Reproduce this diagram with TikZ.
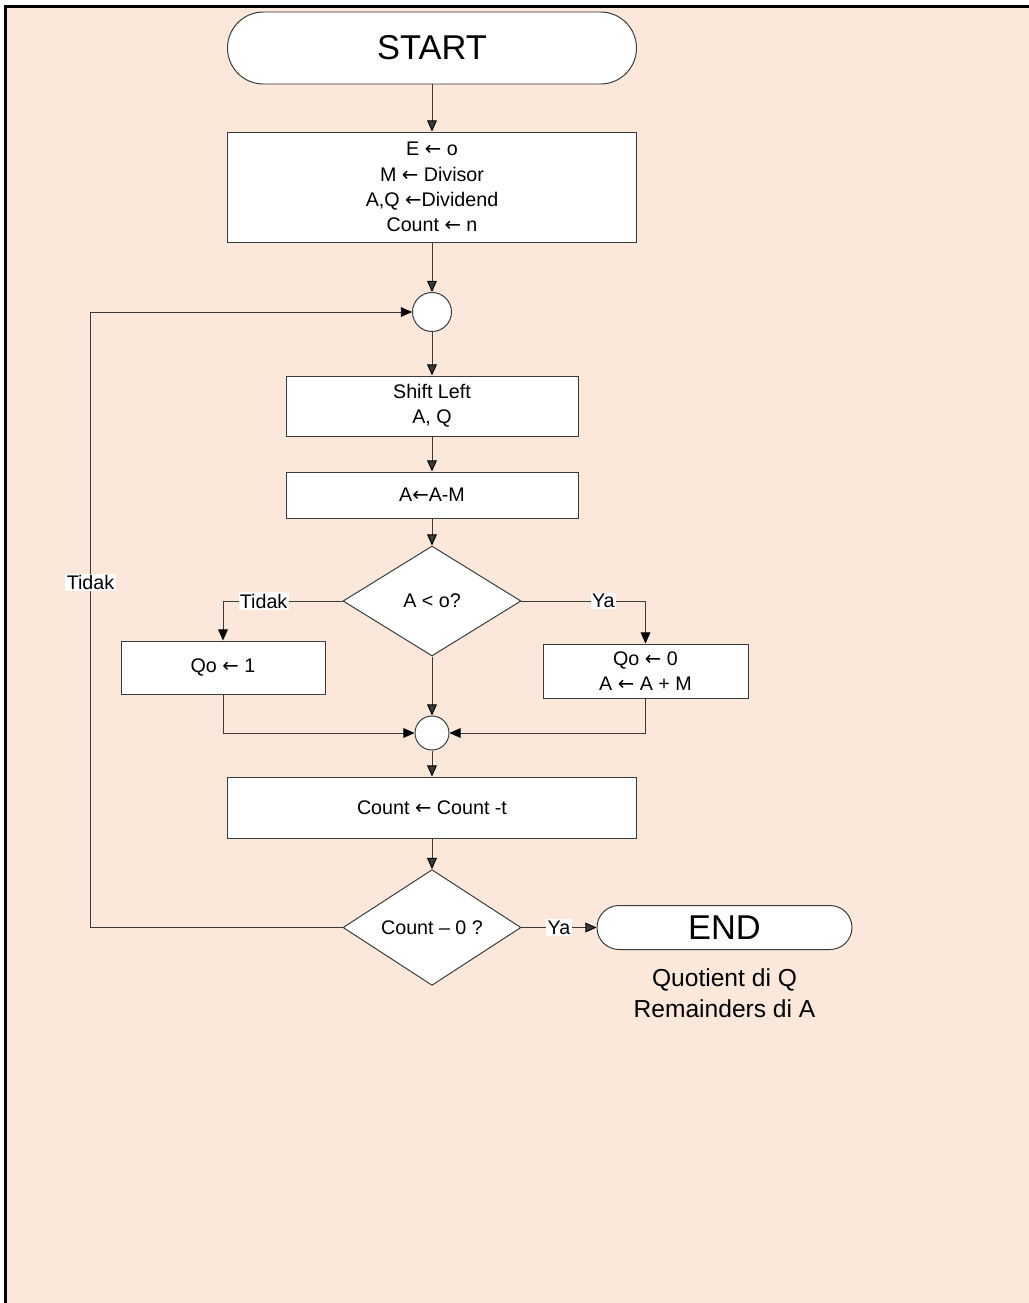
\documentclass[tikz,border=0pt]{standalone}
\usepackage{fontspec}
\setmainfont{Liberation Sans}
\newfontfamily\arrowfont{DejaVu Sans}
\newcommand{\larr}{{\arrowfont ←}}
\usetikzlibrary{positioning,shapes.geometric,arrows.meta}
\definecolor{paper}{HTML}{FCE8DA}
\definecolor{ink}{HTML}{3A3A3A}

\begin{document}
\begin{tikzpicture}[node distance=2cm,on grid,
    every node/.style={font=\fontsize{14}{18}\selectfont},
    terminal/.style={draw=ink, fill=white, rectangle, line width=0.7pt,
      font=\fontsize{24.5}{28}\selectfont},
    proc/.style={draw=ink, fill=white, rectangle, align=center, line width=0.7pt},
    decide/.style={draw=ink, fill=white, diamond, inner sep=0pt, line width=0.7pt,
      minimum width=4.45cm, minimum height=2.75cm},
    joint/.style={draw=ink, fill=white, circle, inner sep=0pt, line width=0.7pt},
    lbl/.style={fill=white, text=black, inner sep=1pt},
    flow/.style={color=ink, line width=0.7pt,
      -{Triangle[length=8pt,width=7pt,color=black]}}]
   \useasboundingbox (-10.8,1.2) rectangle (14.925,-31.375);
   \fill[paper] (-10.6625,1.0375) rectangle (15.3,-31.7);
   \draw[line width=1.8pt] (-10.6625,-31.7) -- (-10.6625,1.0375) -- (15.3,1.0375);

   \node[terminal, minimum width=10.225cm, minimum height=1.8cm, rounded corners=0.9cm] (start) {START};
   \node[proc, minimum width=10.225cm, minimum height=2.75cm] (init) [below=3.475cm of start]
     {E \larr{} o\\M \larr{} Divisor\\A,Q \larr Dividend\\Count \larr{} n};
   \node[joint, minimum size=0.975cm] (join1) [below=3.125cm of init] {};
   \node[proc, minimum width=7.3cm, minimum height=1.5cm] (shift) [below=2.35cm of join1] {Shift Left\\A, Q};
   \node[proc, minimum width=7.3cm, minimum height=1.15cm] (sub) [below=2.225cm of shift] {A\larr A-M};
   \node[decide] (test) [below=2.65cm of sub] {A < o?};
   \node[proc, minimum width=5.1cm, minimum height=1.325cm] (setq1) [below left=1.6625cm and 5.225cm of test] {Qo \larr{} 1};
   \node[proc, minimum width=5.125cm, minimum height=1.35cm] (setq0) [below right=1.75cm and 5.3375cm of test]
     {Qo \larr{} 0\\A \larr{} A + M};
   \node[joint, minimum size=0.85cm] (join2) [below=3.3cm of test] {};
   \node[proc, minimum width=10.225cm, minimum height=1.525cm] (dec) [below=1.8625cm of join2] {Count \larr{} Count -t};
   \node[decide, minimum height=2.725cm] (check) [below=3cm of dec] {Count – 0 ?};
   \node[terminal, minimum width=6.375cm, minimum height=1.1cm, rounded corners=0.55cm] (stop) [right=7.3125cm of check] {END};
   \node[align=center, font=\fontsize{17.5}{22}\selectfont] (result) [below=1.65cm of stop]
     {Quotient di Q\\Remainders di A};

   \coordinate (back) at ([xshift=-6.3cm]check.west);

   \path[flow]
    (start) edge (init)
    (init)  edge (join1)
    (join1) edge (shift)
    (shift) edge (sub)
    (sub)   edge (test)
    (test)  edge (join2)
    (join2) edge (dec)
    (dec)   edge (check)
    (check) edge node[lbl, midway]{Ya} (stop);

   \draw[flow] (test.west) -| node[lbl, pos=0.33]{Tidak} (setq1.north);
   \draw[flow] (test.east) -| node[lbl, pos=0.33]{Ya} (setq0.north);
   \draw[flow] (setq1.south) |- (join2.west);
   \draw[flow] (setq0.south) |- (join2.east);
   \draw[flow] (check.west) -- (back) -- node[lbl, pos=0.56]{Tidak} (back |- join1.west) -- (join1.west);
\end{tikzpicture}
\end{document}
